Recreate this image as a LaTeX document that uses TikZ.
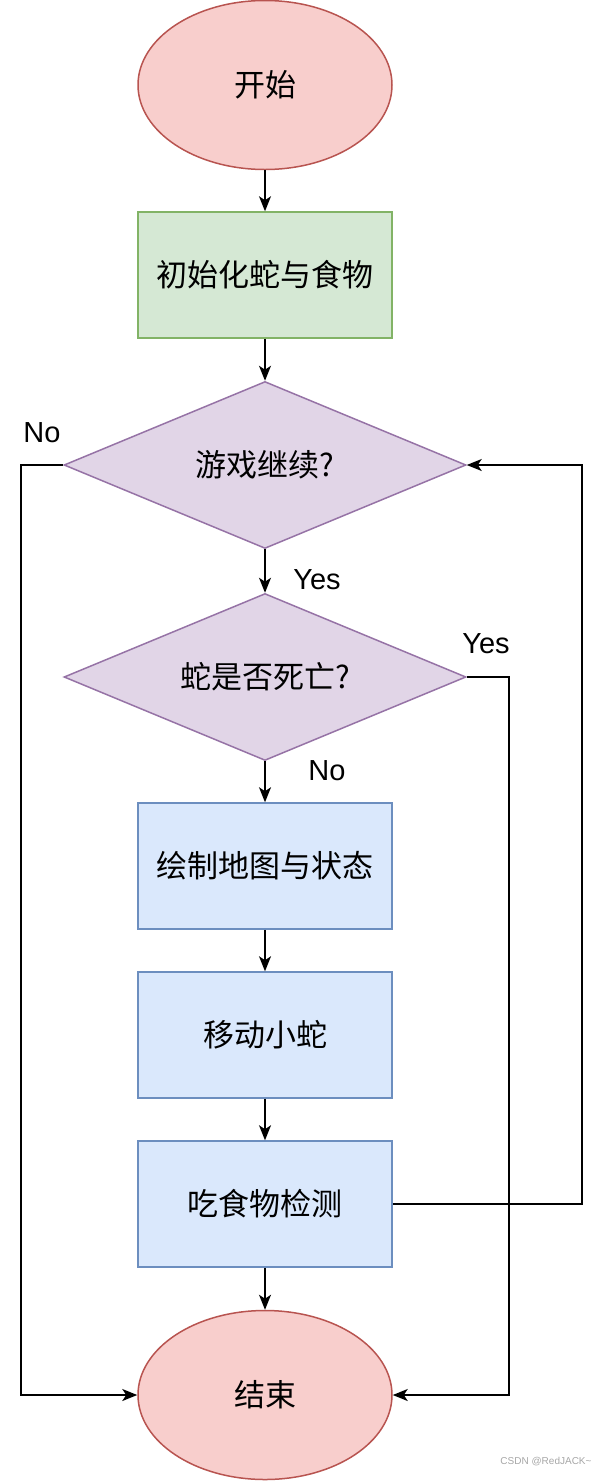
\documentclass[tikz,border=0pt]{standalone}
\usepackage{fontspec}
\setmainfont{Liberation Sans}
\newfontfamily\cjk{Noto Sans CJK SC}
\usetikzlibrary{shapes.geometric,arrows.meta}

\definecolor{redfill}{HTML}{F8CECC}
\definecolor{reddraw}{HTML}{B85450}
\definecolor{greenfill}{HTML}{D5E8D4}
\definecolor{greendraw}{HTML}{82B366}
\definecolor{purplefill}{HTML}{E1D5E7}
\definecolor{purpledraw}{HTML}{9673A6}
\definecolor{bluefill}{HTML}{DAE8FC}
\definecolor{bluedraw}{HTML}{6C8EBF}

\tikzset{
  base/.style={line width=1.5pt, inner sep=0pt, font=\cjk\fontsize{31}{36}\selectfont},
  terminal/.style={base, ellipse, fill=redfill, draw=reddraw, minimum width=254pt, minimum height=169pt},
  initbox/.style={base, rectangle, fill=greenfill, draw=greendraw, minimum width=254pt, minimum height=126pt},
  stepbox/.style={base, rectangle, fill=bluefill, draw=bluedraw, minimum width=254pt, minimum height=126pt},
  decision/.style={base, diamond, aspect=2.4, fill=purplefill, draw=purpledraw, minimum width=402pt, minimum height=167pt},
  flow/.style={line width=1.6pt, -{Stealth[length=15pt, width=12pt, inset=4pt]}},
  lbl/.style={font=\fontsize{29}{32}\selectfont, inner sep=0pt}
}

\begin{document}
\begin{tikzpicture}[x=1pt, y=-1pt]
  \useasboundingbox (0,0) rectangle (600,1481);
  % shapes
  \node[terminal] (start) at (265,85) {开始};
  \node[initbox] (init) at (265,275) {初始化蛇与食物};
  \node[decision] (cont) at (265,465) {游戏继续?};
  \node[decision] (dead) at (265,677) {蛇是否死亡?};
  \node[stepbox] (draw) at (265,866) {绘制地图与状态};
  \node[stepbox] (move) at (265,1035) {移动小蛇};
  \node[stepbox] (eat) at (265,1204) {吃食物检测};
  \node[terminal] (stop) at (265,1395) {结束};
  % labels
  \node[lbl] (contno) at (42,433) {No};
  \node[lbl] (contyes) at (317,580) {Yes};
  \node[lbl] (deadyes) at (486,644) {Yes};
  \node[lbl] (deadno) at (327,771) {No};
  \node[font=\fontsize{10}{11}\selectfont, text=gray!70, inner sep=0pt] (mark) at (546,1462) {CSDN @RedJACK\textasciitilde};
  % connectors
  \draw[flow] (start) -- (init);
  \draw[flow] (init) -- (cont);
  \draw[flow] (cont) -- (dead);
  \draw[flow] (dead) -- (draw);
  \draw[flow] (draw) -- (move);
  \draw[flow] (move) -- (eat);
  \draw[flow] (eat) -- (stop);
  \draw[flow] (cont.west) -- ++(-42,0) |- (stop.west);
  \draw[flow] (dead.east) -- ++(42,0) |- (stop.east);
  \draw[flow] (eat.east) -- ++(189,0) |- (cont.east);
\end{tikzpicture}
\end{document}
